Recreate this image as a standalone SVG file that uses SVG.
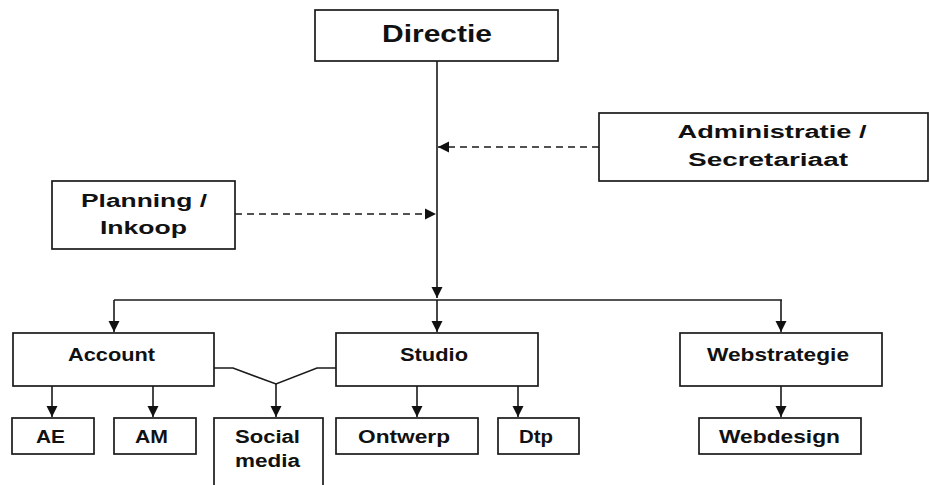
<svg xmlns="http://www.w3.org/2000/svg" width="930" height="485" viewBox="0 0 930 485">
<style>
.box{fill:#fff;stroke:#1a1a1a;stroke-width:1.7}
.ln{fill:none;stroke:#1a1a1a;stroke-width:1.6}
.dash{fill:none;stroke:#1a1a1a;stroke-width:1.5;stroke-dasharray:7 5}
text{font-family:"Liberation Sans",Arial,sans-serif;font-weight:bold;fill:#111;text-anchor:middle}
.t18{font-size:17.5px}
.t24{font-size:24px}
</style>
<defs>
<marker id="ah" markerUnits="userSpaceOnUse" markerWidth="12" markerHeight="12" viewBox="0 0 12 12" refX="11" refY="6" orient="auto">
<path d="M0,0.5 L11,6 L0,11.5 Z" fill="#111"/>
</marker>
</defs>
<rect width="930" height="485" fill="#fff"/>
<g id="connectors">
<path class="ln" d="M437,61 V298" marker-end="url(#ah)"/>
<path class="dash" d="M599,147 H438" marker-end="url(#ah)"/>
<path class="dash" d="M235,214 H436" marker-end="url(#ah)"/>
<path class="ln" d="M114,300 H782"/>
<path class="ln" d="M114,300 V332" marker-end="url(#ah)"/>
<path class="ln" d="M437,300 V332" marker-end="url(#ah)"/>
<path class="ln" d="M781,300 V332" marker-end="url(#ah)"/>
<path class="ln" d="M52,386 V417" marker-end="url(#ah)"/>
<path class="ln" d="M153,386 V417" marker-end="url(#ah)"/>
<path class="ln" d="M214,368 H233 L276,384 L317,368 H336"/>
<path class="ln" d="M276,384 V417" marker-end="url(#ah)"/>
<path class="ln" d="M417,386 V417" marker-end="url(#ah)"/>
<path class="ln" d="M518,386 V417" marker-end="url(#ah)"/>
<path class="ln" d="M781,386 V417" marker-end="url(#ah)"/>
</g>
<g id="directie"><rect class="box" x="315" y="10" width="243" height="51"/><text class="t24" x="437" y="42" textLength="110" lengthAdjust="spacingAndGlyphs">Directie</text></g>
<g id="administratie"><rect class="box" x="599" y="113" width="329" height="68"/><text class="t18" x="772" y="138" textLength="189" lengthAdjust="spacingAndGlyphs">Administratie /</text><text class="t18" x="768" y="166" textLength="160" lengthAdjust="spacingAndGlyphs">Secretariaat</text></g>
<g id="planning"><rect class="box" x="52" y="181" width="183" height="68"/><text class="t18" x="144" y="207" textLength="126" lengthAdjust="spacingAndGlyphs">Planning /</text><text class="t18" x="143.5" y="234" textLength="87" lengthAdjust="spacingAndGlyphs">Inkoop</text></g>
<g id="account"><rect class="box" x="13" y="333" width="201" height="53"/><text class="t18" x="111.5" y="361" textLength="87" lengthAdjust="spacingAndGlyphs">Account</text></g>
<g id="studio"><rect class="box" x="336" y="333" width="202" height="53"/><text class="t18" x="434" y="361" textLength="68" lengthAdjust="spacingAndGlyphs">Studio</text></g>
<g id="webstrategie"><rect class="box" x="680" y="333" width="202" height="53"/><text class="t18" x="778" y="361" textLength="142" lengthAdjust="spacingAndGlyphs">Webstrategie</text></g>
<g id="ae"><rect class="box" x="12" y="418" width="82" height="36"/><text class="t18" x="50.5" y="443" textLength="29" lengthAdjust="spacingAndGlyphs">AE</text></g>
<g id="am"><rect class="box" x="114" y="418" width="82" height="36"/><text class="t18" x="151.5" y="443" textLength="33" lengthAdjust="spacingAndGlyphs">AM</text></g>
<g id="social"><rect class="box" x="214" y="418" width="109" height="80"/><text class="t18" x="267.5" y="443" textLength="65" lengthAdjust="spacingAndGlyphs">Social</text><text class="t18" x="267.5" y="467" textLength="65" lengthAdjust="spacingAndGlyphs">media</text></g>
<g id="ontwerp"><rect class="box" x="336" y="418" width="142" height="36"/><text class="t18" x="404" y="443" textLength="92" lengthAdjust="spacingAndGlyphs">Ontwerp</text></g>
<g id="dtp"><rect class="box" x="498" y="418" width="81" height="36"/><text class="t18" x="536" y="443" textLength="34" lengthAdjust="spacingAndGlyphs">Dtp</text></g>
<g id="webdesign"><rect class="box" x="699" y="418" width="162" height="36"/><text class="t18" x="779.5" y="443" textLength="121" lengthAdjust="spacingAndGlyphs">Webdesign</text></g>
</svg>
